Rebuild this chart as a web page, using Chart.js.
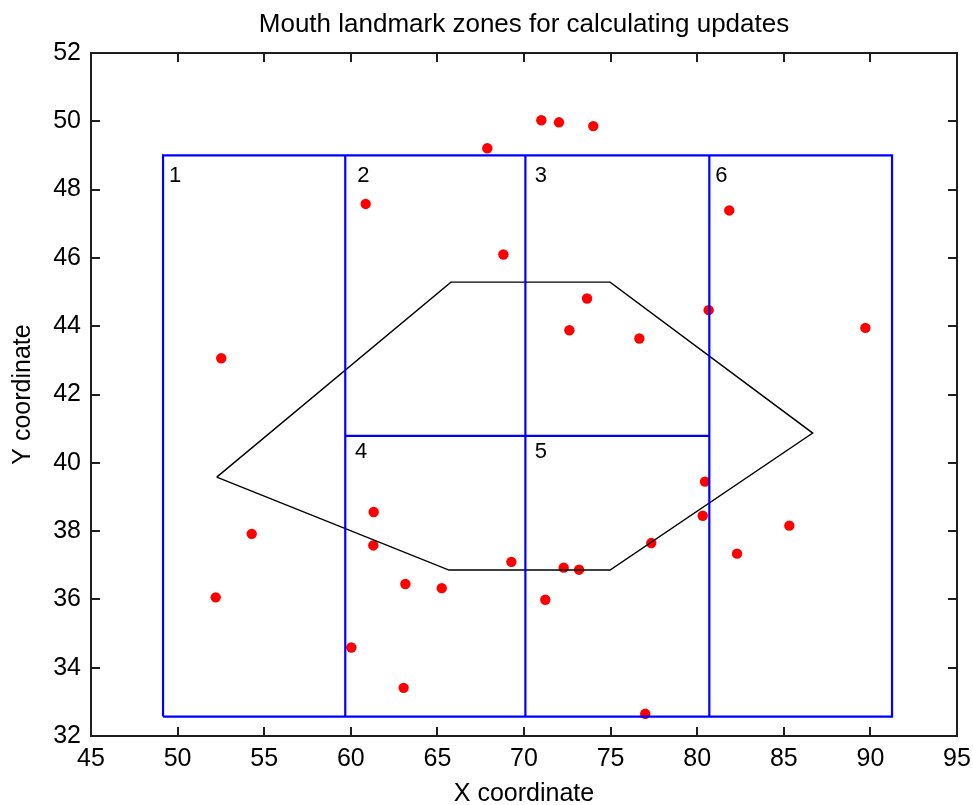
<!DOCTYPE html>
<html>
<head>
<meta charset="utf-8">
<title>Mouth landmark zones</title>
<script src="https://cdn.jsdelivr.net/npm/chart.js@4.4.1/dist/chart.umd.min.js"></script>
<style>
  html, body { margin: 0; padding: 0; background: #fff; }
  #wrap { width: 973px; height: 805px; }
</style>
</head>
<body>
<div id="wrap"><canvas id="zoneChart" width="973" height="805"></canvas></div>
<script>
// landmark positions (red dots)
const pointsX = [67.88, 71.00, 72.02, 74.00, 60.86, 81.85, 68.81, 73.64, 80.66, 89.71, 72.62,
                 76.66, 52.52, 80.45, 61.32, 80.32, 85.32, 54.28, 61.30, 77.35, 82.30, 69.27,
                 72.29, 73.18, 63.15, 65.25, 52.20, 71.23, 60.03, 63.05, 77.00];
const pointsY = [49.21, 50.03, 49.97, 49.86, 47.58, 47.39, 46.10, 44.81, 44.47, 43.95, 43.88,
                 43.64, 43.06, 39.45, 38.56, 38.45, 38.16, 37.92, 37.58, 37.65, 37.34, 37.10,
                 36.93, 36.87, 36.45, 36.33, 36.06, 35.99, 34.59, 33.41, 32.65];

// mouth outline (closed hexagon)
const mouthX = [52.26, 65.78, 74.97, 86.67, 74.97, 65.67, 52.26];
const mouthY = [39.58, 45.29, 45.29, 40.87, 36.86, 36.86, 39.58];

// zone grid edges
const zoneXs = [49.16, 59.68, 70.08, 80.70, 91.25];
const zoneYs = [32.57, 40.79, 49.00];

// zone numbers and their anchor points
const zoneNames = ['1', '2', '3', '6', '4', '5'];
const zoneNameX = [49.85, 60.72, 70.98, 81.39, 60.59, 70.98];
const zoneNameY = [48.41, 48.41, 48.41, 48.41, 40.31, 40.31];

const xTicks = [45, 50, 55, 60, 65, 70, 75, 80, 85, 90, 95];
const yTicks = [32, 34, 36, 38, 40, 42, 44, 46, 48, 50, 52];

const chartTitle = 'Mouth landmark zones for calculating updates';

const FONT = '"Liberation Sans", Arial, sans-serif';
const BLUE = '#0000ff';

function toPoints(xs, ys) {
    return xs.map((x, i) => ({ x: x, y: ys[i] }));
}

function lineSet(xs, ys, color, width) {
    return {
        type: 'line',
        data: toPoints(xs, ys),
        borderColor: color,
        borderWidth: width,
        pointRadius: 0,
        fill: false,
        tension: 0
    };
}

// zone boxes: outer frame, three dividers, middle split
const [x0, x1, x2, x3, x4] = zoneXs;
const [yBot, yMid, yTop] = zoneYs;
const zoneSets = [
    lineSet([x0, x4, x4, x0, x0], [yBot, yBot, yTop, yTop, yBot], BLUE, 2.2),
    lineSet([x1, x1], [yBot, yTop], BLUE, 2.2),
    lineSet([x2, x2], [yBot, yTop], BLUE, 2.2),
    lineSet([x3, x3], [yBot, yTop], BLUE, 2.2),
    lineSet([x1, x3], [yMid, yMid], BLUE, 2.2)
];

// box around the axes with inward tick marks on all four sides
const boxTicks = {
    id: 'boxTicks',
    afterDatasetsDraw(chart) {
        const { ctx, chartArea: a, scales: { x, y } } = chart;
        const len = 9;
        ctx.save();
        ctx.strokeStyle = '#1e1e1e';
        ctx.lineWidth = 2;
        ctx.strokeRect(a.left, a.top, a.right - a.left, a.bottom - a.top);
        ctx.beginPath();
        xTicks.forEach(v => {
            const px = Math.round(x.getPixelForValue(v));
            ctx.moveTo(px, a.bottom); ctx.lineTo(px, a.bottom - len);
            ctx.moveTo(px, a.top); ctx.lineTo(px, a.top + len);
        });
        yTicks.forEach(v => {
            const py = Math.round(y.getPixelForValue(v));
            ctx.moveTo(a.left, py); ctx.lineTo(a.left + len, py);
            ctx.moveTo(a.right, py); ctx.lineTo(a.right - len, py);
        });
        ctx.stroke();
        ctx.restore();
    }
};

// zone numbers written inside the boxes, title centred over the axes
const textLayer = {
    id: 'textLayer',
    afterDraw(chart) {
        const { ctx, chartArea: a, scales: { x, y } } = chart;
        ctx.save();
        ctx.fillStyle = '#000';
        ctx.textAlign = 'center';
        ctx.textBaseline = 'middle';
        ctx.font = '22px ' + FONT;
        zoneNames.forEach((name, i) => {
            ctx.fillText(name, x.getPixelForValue(zoneNameX[i]), y.getPixelForValue(zoneNameY[i]));
        });
        ctx.font = '26px ' + FONT;
        ctx.fillText(chartTitle, (a.left + a.right) / 2, 25);
        ctx.restore();
    }
};

const ctx = document.getElementById('zoneChart').getContext('2d');
new Chart(ctx, {
    type: 'scatter',
    data: {
        datasets: [
            ...zoneSets,
            lineSet(mouthX, mouthY, '#000000', 1.4),
            {
                type: 'scatter',
                data: toPoints(pointsX, pointsY),
                backgroundColor: '#ff0000',
                borderColor: '#ff0000',
                borderWidth: 0,
                pointRadius: 5.2
            }
        ]
    },
    plugins: [boxTicks, textLayer],
    options: {
        responsive: false,
        animation: false,
        events: [],
        layout: { padding: { left: 0, right: 16, top: 53, bottom: 0 } },
        plugins: {
            legend: { display: false },
            tooltip: { enabled: false },
            title: { display: false }
        },
        scales: {
            x: {
                type: 'linear',
                min: 45,
                max: 95,
                grid: { display: false, drawTicks: false },
                border: { display: false },
                ticks: {
                    stepSize: 5,
                    color: '#000',
                    padding: 8,
                    maxRotation: 0,
                    font: { family: FONT, size: 25 }
                },
                title: {
                    display: true,
                    text: 'X coordinate',
                    color: '#000',
                    font: { family: FONT, size: 25, lineHeight: 1 },
                    padding: { top: 0, bottom: -2 }
                },
                afterFit(scale) {
                    scale.height = 69;
                    scale.paddingLeft = 0;
                    scale.paddingRight = 0;
                }
            },
            y: {
                type: 'linear',
                min: 32,
                max: 52,
                grid: { display: false, drawTicks: false },
                border: { display: false },
                ticks: {
                    stepSize: 2,
                    color: '#000',
                    padding: 10,
                    font: { family: FONT, size: 25 }
                },
                title: {
                    display: true,
                    text: 'Y coordinate',
                    color: '#000',
                    font: { family: FONT, size: 25, lineHeight: 1 },
                    padding: { top: 11, bottom: 0 }
                },
                afterFit(scale) {
                    scale.width = 91;
                    scale.paddingTop = 0;
                    scale.paddingBottom = 0;
                }
            }
        }
    }
});
</script>
</body>
</html>
